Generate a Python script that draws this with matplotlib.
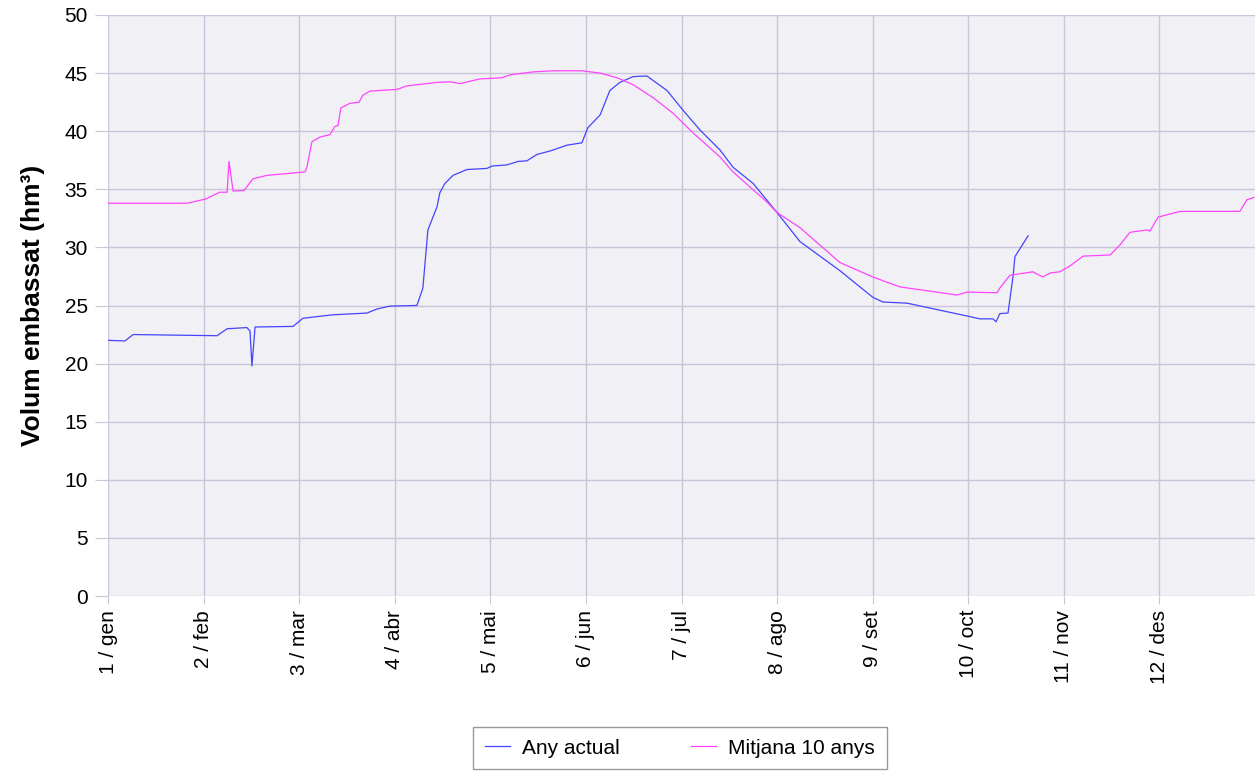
import matplotlib
matplotlib.use("Agg")
import matplotlib.pyplot as plt
import numpy as np

plt.rcParams['font.family'] = ['Liberation Sans', 'DejaVu Sans']

month_labels = ['1 / gen', '2 / feb', '3 / mar', '4 / abr', '5 / mai', '6 / jun',
                '7 / jul', '8 / ago', '9 / set', '10 / oct', '11 / nov', '12 / des']

# Any actual (day of year, hm3)
actual_day = [0, 5.4, 8, 34.7, 37.9, 44.2, 45.2, 45.8, 46.8, 58.9, 62, 71.6, 82.4, 85.6,
              89.7, 97.7, 98.3, 100.2, 101.8, 104.7, 105.6, 107.2, 109.8, 114.2, 120.6,
              122.2, 127, 130.5, 133.3, 136.5, 140.7, 146.1, 150.8, 152.7, 156.6, 159.7,
              162.9, 167.1, 171.5, 177.9, 183, 188.4, 194.7, 198.9, 205.3, 212.9, 220.2,
              232.9, 243.4, 246.6, 254.3, 273.3, 277.5, 281.6, 282.6, 283.8, 286.4, 288,
              288.6, 292.8]
actual_vol = [22.0, 21.95, 22.5, 22.4, 23.0, 23.1, 22.8, 19.8, 23.15, 23.2, 23.9, 24.2,
              24.35, 24.7, 24.95, 25.0, 25.0, 26.5, 31.5, 33.5, 34.7, 35.5, 36.2, 36.7,
              36.8, 37.0, 37.1, 37.4, 37.45, 38.0, 38.3, 38.8, 39.0, 40.3, 41.4, 43.5,
              44.2, 44.7, 44.75, 43.5, 41.8, 40.1, 38.4, 36.9, 35.5, 33.0, 30.5, 28.0,
              25.7, 25.3, 25.2, 24.1, 23.85, 23.85, 23.6, 24.3, 24.35, 27.5, 29.2, 31.0]

# Mitjana 10 anys
mean_day = [0, 25.1, 30.9, 35.6, 37.9, 38.5, 39.8, 43.3, 46.1, 50.6, 58.9, 62.7, 63.3,
            64.9, 67.5, 70.6, 72.2, 73.2, 74.1, 77, 79.9, 81.1, 83.4, 92, 95.1, 104.7,
            108.8, 112, 118.4, 125.4, 127.9, 135.2, 141.6, 150.8, 156.6, 162, 167.1,
            173.4, 179.8, 186.2, 194.7, 198.9, 209.7, 212.9, 220.2, 232.9, 243.4, 252,
            262.5, 270.2, 273.3, 282.9, 283.8, 287, 294.3, 297.5, 299.8, 302.9, 306.1,
            310.3, 318.9, 322, 325.2, 330.6, 331.6, 334.1, 341.1, 360.2, 362.4, 364.7]
mean_vol = [33.8, 33.8, 34.15, 34.75, 34.75, 37.4, 34.85, 34.9, 35.9, 36.2, 36.4, 36.5,
            36.9, 39.1, 39.5, 39.7, 40.4, 40.5, 42.0, 42.4, 42.5, 43.1, 43.45, 43.6,
            43.9, 44.2, 44.25, 44.1, 44.5, 44.6, 44.85, 45.1, 45.2, 45.2, 45.0, 44.6,
            44.0, 42.9, 41.55, 39.85, 37.8, 36.5, 33.9, 33.0, 31.7, 28.7, 27.45, 26.6,
            26.2, 25.9, 26.15, 26.1, 26.5, 27.6, 27.9, 27.45, 27.8, 27.9, 28.4, 29.25,
            29.35, 30.2, 31.3, 31.5, 31.4, 32.6, 33.1, 33.1, 34.1, 34.3]

grid_col = '#c9c6d9'

fig = plt.figure(figsize=(12.55, 7.71), dpi=100)
ax = fig.add_axes([108 / 1255, 1 - 596 / 771, 1147 / 1255, 581 / 771])
ax.set_facecolor('#f0f0f5')

ax.plot(actual_day, actual_vol, color='#4444ff', lw=0.9, label='Any actual')
ax.plot(mean_day, mean_vol, color='#ff44ff', lw=0.9, label='Mitjana 10 anys')

ax.set_xlim(0, 365)
ax.set_ylim(0, 50)
ax.set_xticks(np.arange(12) * 365 / 12)
ax.set_xticklabels(month_labels, rotation=90, fontsize=15)
ax.set_yticks(np.arange(0, 51, 5))
ax.tick_params(axis='y', labelsize=15, length=9.5, color=grid_col, pad=5)
ax.tick_params(axis='x', length=6, color=grid_col, pad=4)
ax.grid(True, color=grid_col, lw=1)
ax.set_axisbelow(True)
for s in ax.spines.values():
    s.set_visible(False)

ax.set_ylabel('Volum embassat (hm³)', fontsize=19, fontweight='bold', labelpad=14)

leg = fig.legend(loc='center', bbox_to_anchor=(680 / 1255, 1 - 748 / 771), ncol=2,
                 fontsize=15, frameon=True, fancybox=False, handlelength=1.2,
                 columnspacing=3.4, borderpad=0.55, handletextpad=0.6,
                 borderaxespad=0)
leg.get_frame().set_edgecolor('#808080')
leg.get_frame().set_linewidth(1)

fig.savefig('out.png', dpi=100)
